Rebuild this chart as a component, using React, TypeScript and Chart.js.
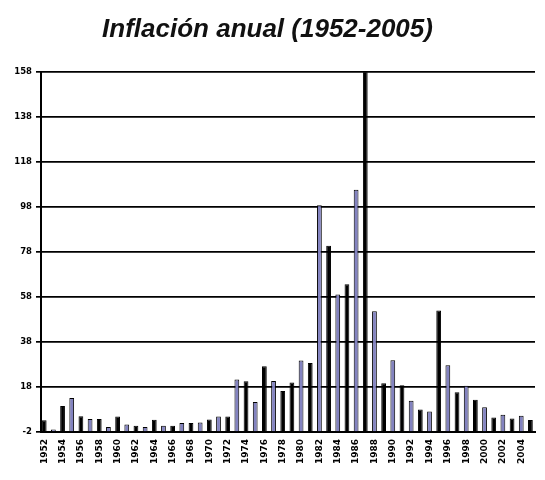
import { useEffect, useRef } from 'react';
import { Chart, registerables } from 'chart.js';

Chart.register(...registerables);

const titleText = 'Inflación anual (1952-2005)';

const years = [
  1952, 1953, 1954, 1955, 1956, 1957, 1958, 1959, 1960, 1961,
  1962, 1963, 1964, 1965, 1966, 1967, 1968, 1969, 1970, 1971,
  1972, 1973, 1974, 1975, 1976, 1977, 1978, 1979, 1980, 1981,
  1982, 1983, 1984, 1985, 1986, 1987, 1988, 1989, 1990, 1991,
  1992, 1993, 1994, 1995, 1996, 1997, 1998, 1999, 2000, 2001,
  2002, 2003, 2004, 2005,
];

const inflation = [
  3.2, -0.9, 9.6, 13.1, 5.0, 3.8, 3.8, 0.2, 4.9, 1.3,
  0.8, 0.2, 3.4, 0.8, 0.8, 2.0, 2.0, 2.2, 3.6, 4.9,
  4.9, 21.3, 20.6, 11.3, 27.2, 20.7, 16.2, 20.0, 29.8, 28.7,
  98.8, 80.8, 59.2, 63.7, 105.7, 159.2, 51.7, 19.7, 29.9, 18.8,
  11.9, 8.0, 7.1, 52.0, 27.7, 15.7, 18.6, 12.3, 9.0, 4.4,
  5.7, 4.0, 5.2, 3.3,
];

// bar shade per year: 0 = black, 1 = blue (as in the reference)
const barShade = [
  0, 1, 0, 1, 0, 1, 0, 1, 0, 1,
  0, 1, 0, 1, 0, 1, 0, 1, 0, 1,
  0, 1, 0, 1, 0, 1, 0, 0, 1, 0,
  1, 0, 1, 0, 1, 0, 1, 0, 1, 0,
  1, 0, 1, 0, 1, 0, 1, 0, 1, 0,
  1, 0, 1, 0,
];

const xTickYears = [
  1952, 1954, 1956, 1958, 1960, 1962, 1964, 1966, 1968, 1970,
  1972, 1974, 1976, 1978, 1980, 1982, 1984, 1986, 1988, 1990,
  1992, 1994, 1996, 1998, 2000, 2002, 2004,
];

const yTicks = [-2, 18, 38, 58, 78, 98, 118, 138, 158];

const barColors = ['#000000', '#8383c0'];

export default function App() {
  const ref = useRef<HTMLCanvasElement>(null);

  useEffect(() => {
    document.body.style.margin = '0';
    const canvas = ref.current;
    if (!canvas) return;
    const chart = new Chart(canvas, {
      type: 'bar',
      data: {
        datasets: [
          {
            label: 'Inflación',
            data: years.map((x, i) => ({ x, y: inflation[i] })),
            base: yTicks[0],
            backgroundColor: barShade.map((s) => barColors[s]),
            borderColor: '#000000',
            borderWidth: 1,
            barPercentage: 0.52,
            categoryPercentage: 1,
          } as any,
        ],
      },
      options: {
        animation: false,
        responsive: false,
        devicePixelRatio: 1,
        layout: { padding: { left: 0, right: 10, top: 0, bottom: 0 } },
        plugins: {
          legend: { display: false },
          tooltip: { enabled: false },
          title: {
            display: true,
            text: titleText,
            color: '#111111',
            font: { family: '"Liberation Sans", Arial, sans-serif', size: 26, weight: 'bold', style: 'italic' },
            padding: { top: 14, bottom: 27 },
          },
        },
        scales: {
          x: {
            type: 'linear',
            min: 1951.65,
            max: 2005.5,
            offset: false,
            grid: { display: false, drawTicks: false },
            border: { display: true, color: '#000000', width: 2 },
            afterBuildTicks: (s: any) => {
              s.ticks = xTickYears.map((v) => ({ value: v }));
            },
            afterFit: (s: any) => {
              s.height = 48;
            },
            ticks: {
              autoSkip: false,
              minRotation: 90,
              maxRotation: 90,
              padding: 7,
              color: '#000000',
              font: { family: '"DejaVu Sans", sans-serif', size: 9, weight: 'bold' },
              callback: (v: any) => String(v),
            },
          },
          y: {
            min: yTicks[0],
            max: yTicks[yTicks.length - 1],
            afterBuildTicks: (s: any) => {
              s.ticks = yTicks.map((v) => ({ value: v }));
            },
            afterFit: (s: any) => {
              s.width = 41;
            },
            grid: { color: '#000000', lineWidth: 1.7, tickLength: 5 },
            border: { display: true, color: '#000000', width: 2 },
            ticks: {
              padding: 4,
              color: '#000000',
              font: { family: '"DejaVu Sans", sans-serif', size: 8.5, weight: 'bold' },
              callback: (v: any) => String(v),
            },
          },
        },
      } as any,
    });
    return () => chart.destroy();
  }, []);

  return (
    <div style={{ position: 'absolute', left: 0, top: 0, width: 545, height: 480, background: '#ffffff' }}>
      <canvas ref={ref} width={545} height={480} style={{ display: 'block' }} />
    </div>
  );
}
